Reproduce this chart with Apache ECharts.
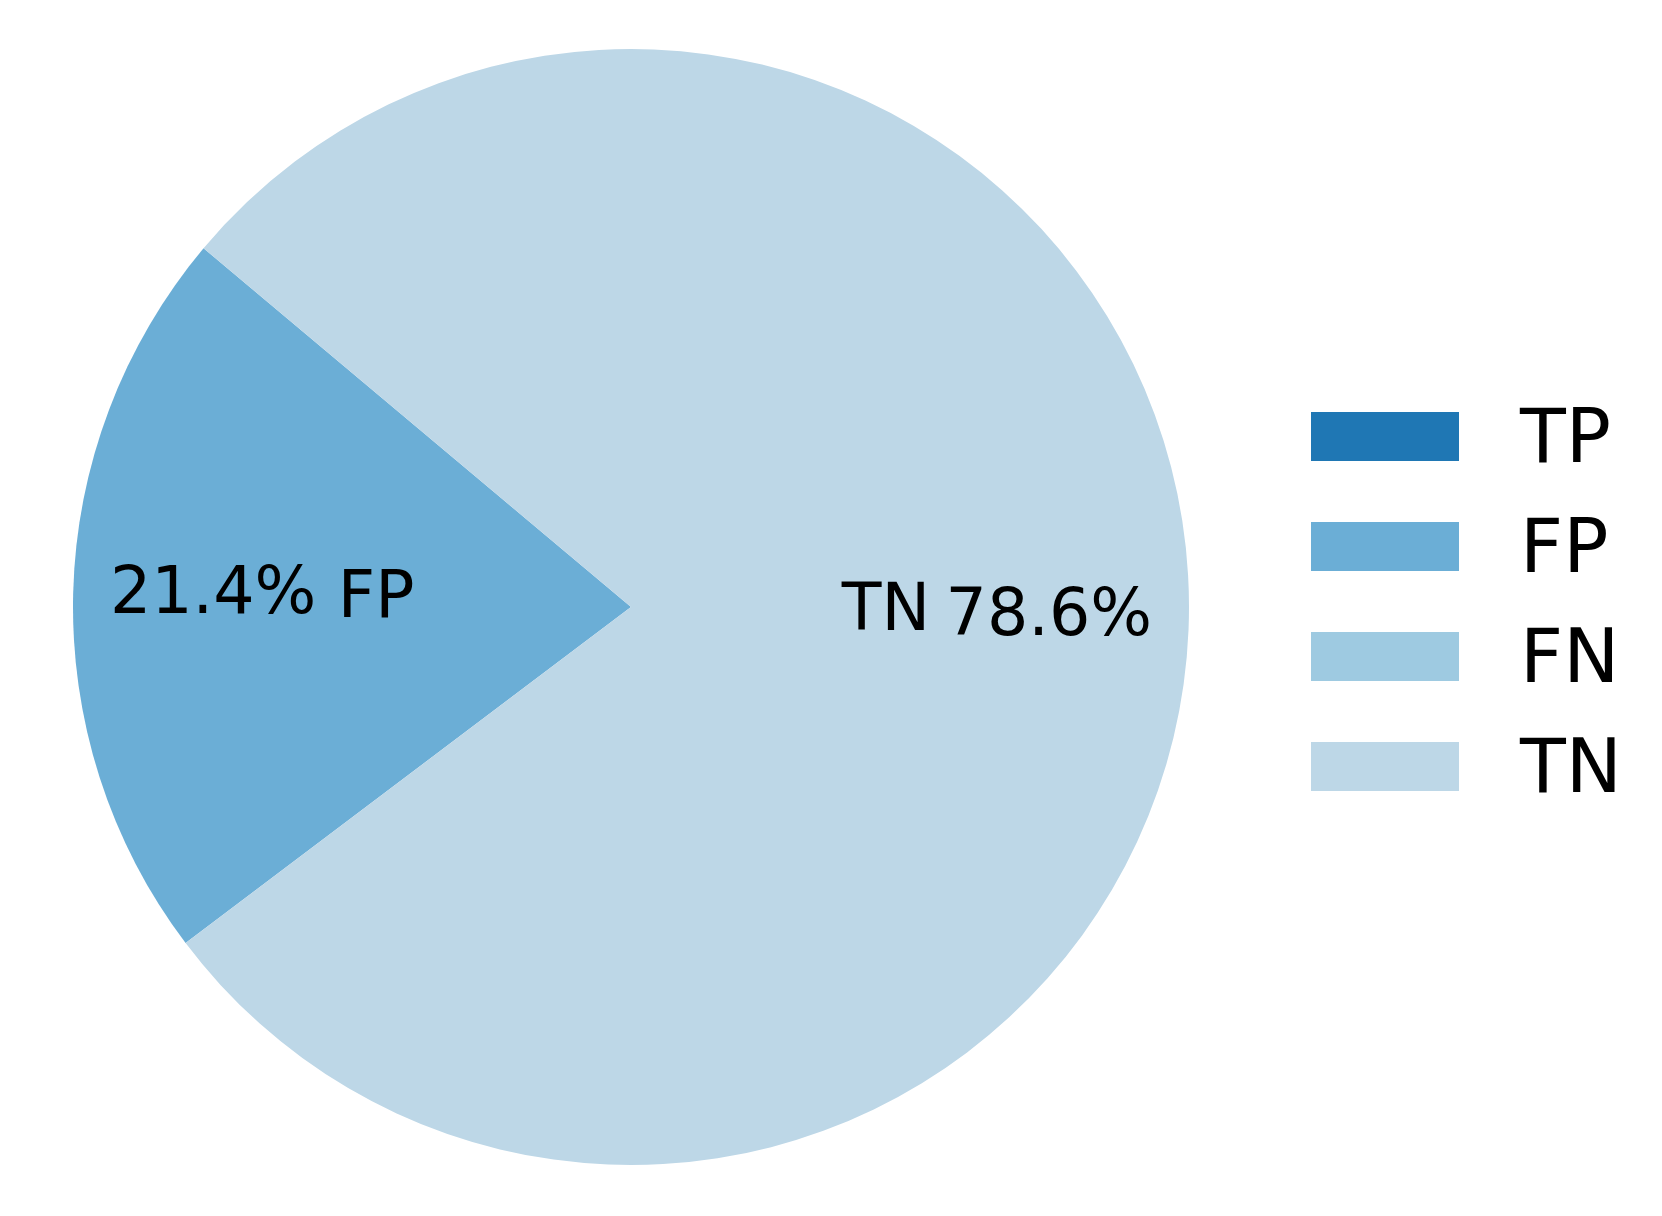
<!DOCTYPE html>
<html>
<head>
<meta charset="utf-8">
<title>Confusion pie</title>
<script src="https://cdn.jsdelivr.net/npm/echarts@6/dist/echarts.min.js"></script>
<style>
  html, body { margin: 0; padding: 0; background: #fff; }
  #chart { width: 1662px; height: 1216px; }
</style>
</head>
<body>
<div id="chart"></div>
<script>
const categories = ['TP', 'FP', 'FN', 'TN']
const shares = [0, 21.4, 0, 78.6]
const colors = ['#1f77b4', '#6baed6', '#9ecae1', '#bdd7e7']

const center = [631, 607]
const R = 558
const font = 'DejaVu Sans'

const chart = echarts.init(document.getElementById('chart'))

function pieData(withLabel) {
  return categories.map((name, i) => ({
    name: name,
    value: shares[i],
    itemStyle: { color: withLabel ? 'transparent' : colors[i] },
    label: { show: withLabel && shares[i] > 0 }
  }))
}

// label-only layers, transparent sectors on top of the real pie
function labelSeries(radius, formatter) {
  return {
    type: 'pie',
    center: center,
    radius: radius,
    startAngle: 140,
    clockwise: false,
    percentPrecision: 1,
    silent: true,
    animation: false,
    emphasis: { disabled: true },
    labelLine: { show: false },
    label: {
      position: 'inside',
      formatter: formatter,
      color: '#000',
      fontFamily: font,
      fontSize: 65
    },
    data: pieData(true)
  }
}

// two stacked legends: one draws the swatches, the other the text a bit lower
function legend(top, showIcons) {
  return {
    orient: 'vertical',
    left: 1306,
    top: top,
    itemWidth: 148,
    itemHeight: 49,
    itemGap: 35,
    icon: 'rect',
    selectedMode: false,
    data: categories.map((name, i) => ({
      name: name,
      itemStyle: { color: showIcons ? colors[i] : 'transparent' }
    })),
    textStyle: {
      color: showIcons ? 'transparent' : '#000',
      fontFamily: font,
      fontSize: 75,
      lineHeight: 75,
      padding: [0, 0, 0, 56]
    }
  }
}

chart.setOption({
  animation: false,
  legend: [legend(394, true), legend(400, false)],
  series: [
    {
      type: 'pie',
      center: center,
      radius: [0, R],
      startAngle: 140,
      clockwise: false,
      silent: true,
      animation: false,
      label: { show: false },
      labelLine: { show: false },
      data: pieData(false)
    },
    labelSeries([0, 504], '{b}'),
    labelSeries([272, R], '{d}%')
  ]
})
</script>
</body>
</html>
